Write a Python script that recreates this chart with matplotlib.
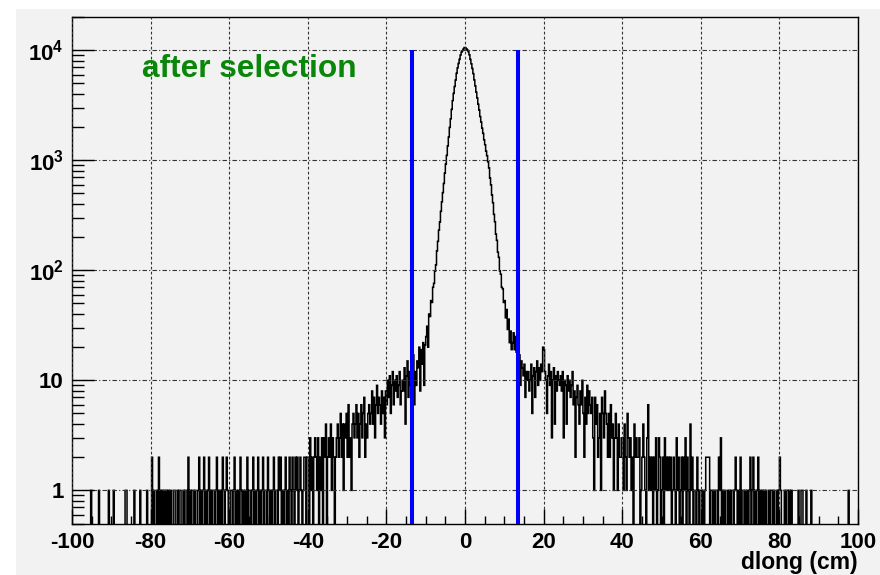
import numpy as np
import matplotlib.pyplot as plt
from matplotlib.patches import Rectangle
from matplotlib.ticker import FixedLocator, MultipleLocator, NullFormatter

plt.rcParams['font.family'] = ['Liberation Sans', 'DejaVu Sans']
plt.rcParams['font.weight'] = 'bold'
plt.rcParams['mathtext.fontset'] = 'custom'
plt.rcParams['mathtext.rm'] = 'Liberation Sans:bold'
plt.rcParams['mathtext.bf'] = 'Liberation Sans:bold'

# dlong histogram: 0.25 cm bins between -100 and 100 cm
x_lo, x_hi, n_bins = -100.0, 100.0, 800

# tails are one base-36 digit per bin, 16 bins (4 cm) per string
left_tail = [
    "0000000000000000",  # -100 .. -96
    "0001000000010000",
    "0000010000100000",
    "0000001100000001",
    "0000010000001000",
    "0201001020101010",  # -80 .. -76
    "1010100110010110",
    "0101102010110100",
    "1201012010120101",
    "1012010102101210",
    "0110120101021010",  # -60 .. -56
    "1020110120101201",
    "0120110210101201",
    "1021201012010210",
    "2102120121012202",
    "2031202321302130",  # -40 .. -36
    "3240232413202342",
    "3524143526231453",
    "4635246357243564",
    "5847369576485738",
    "6a7b59c6a8b79c68",  # -20 .. -16
    "a8d4bf7c9eah6c9f",
]

# central peak, -12 .. 12 cm
core_left = [13, 20, 8, 19, 14, 22, 9, 21, 25, 31, 20, 40,
             38, 53, 51, 70, 76, 98, 112, 150, 183, 231, 274, 343,
             418, 507, 614, 762, 921, 1105, 1346, 1622, 1983, 2376, 2891, 3474,
             4043, 4668, 5341, 6158, 6893, 7561, 8243, 9012, 9586, 9893, 10218, 10560]
core_right = [10537, 10288, 10024, 9688, 9071, 8229, 7514, 6807, 6112, 5356, 4731, 4149,
              3672, 3218, 2853, 2489, 2221, 1948, 1752, 1531, 1382, 1207, 1098, 968,
              851, 688, 597, 482, 411, 322, 276, 213, 187, 146, 131, 99,
              92, 70, 68, 51, 53, 37, 44, 29, 36, 22, 28, 19]

right_tail = [
    "mrjpigeh9fdbe7ca",  # 12 .. 16
    "c8ae5bd7cf9daeck",
    "jca5be9c3ad4b8ca",
    "9b8c3a94b8a79c68",
    "2796486a52749586",
    "5731746235175385",  # 32 .. 36
    "4252634135314223",
    "3142153231204232",
    "2301242103612120",
    "2130132012031212",
    "1201210312012021",  # 52 .. 56
    "3021041201102101",
    "1010122220110101",
    "1021301010010101",
    "1012101020110101",
    "0120120101201010",  # 72 .. 76
    "1010010110100101",
    "2100010110101000",
    "0001001100010000",
    "1000000000000000",
    "0000000000000000",  # 92 .. 96
    "0000001000000000",
]

cut_lo, cut_hi = -13.5, 13.5

y_ticks = [1, 10, 100, 1000, 10000]
y_tick_labels = ['1', '10', r'$\mathbf{10^{2}}$', r'$\mathbf{10^{3}}$', r'$\mathbf{10^{4}}$']
x_ticks = [-100, -80, -60, -40, -20, 0, 20, 40, 60, 80, 100]


def decode(strings):
    for s in strings:
        if len(s) != 16:
            raise ValueError("bad chunk %r" % s)
    return [int(c, 36) for s in strings for c in s]


def main():
    counts = np.array(decode(left_tail) + core_left + core_right + decode(right_tail), dtype=float)
    edges = np.linspace(x_lo, x_hi, n_bins + 1)

    fig = plt.figure(figsize=(8.8, 5.75), dpi=100, facecolor='white')
    # canvas background, kept behind the axes
    fig.patches.append(Rectangle((16 / 880, 0), 1, 1 - 9 / 575, transform=fig.transFigure,
                                 facecolor='#f2f2f2', edgecolor='none', zorder=-10))

    ax = fig.add_axes([72 / 880, 1 - 523.5 / 575, 786 / 880, 506.5 / 575])
    ax.set_facecolor('#f2f2f2')

    # empty bins drop to the bottom of the log axis
    shown = np.where(counts > 0, counts, 1e-3)
    ax.stairs(shown, edges, baseline=1e-3, color='black', lw=1.1)

    ax.vlines([cut_lo, cut_hi], 0.5, 1e4, color='#0000ff', lw=2.9, zorder=3)

    ax.set_yscale('log')
    ax.set_xlim(x_lo, x_hi)
    ax.set_ylim(0.5, 2e4)

    ax.xaxis.set_major_locator(FixedLocator(x_ticks))
    ax.xaxis.set_minor_locator(MultipleLocator(5))
    ax.set_xticklabels([str(t) for t in x_ticks])
    ax.yaxis.set_major_locator(FixedLocator(y_ticks))
    ax.set_yticklabels(y_tick_labels)
    ax.yaxis.set_minor_locator(FixedLocator(
        [m * 10 ** e for e in range(-1, 5) for m in range(2, 10) if 0.5 <= m * 10 ** e <= 2e4]))
    ax.yaxis.set_minor_formatter(NullFormatter())

    ax.tick_params(axis='both', which='both', direction='in', top=False, right=False,
                   width=1, color='black', labelsize=16)
    ax.tick_params(axis='x', which='major', length=11, pad=6)
    ax.tick_params(axis='x', which='minor', length=5.5)
    ax.tick_params(axis='y', which='major', length=16, pad=6)
    ax.tick_params(axis='y', which='minor', length=8.6)
    for lab in ax.get_xticklabels() + ax.get_yticklabels():
        lab.set_fontweight('bold')

    ax.set_axisbelow(False)
    ax.grid(True, which='major', axis='x', color='#333333', lw=0.8, linestyle=(0, (2.5, 2)))
    ax.grid(True, which='major', axis='y', color='#333333', lw=0.8, linestyle=(0, (4, 2, 1, 2)))

    for sp in ax.spines.values():
        sp.set_color('black')
        sp.set_linewidth(1.0)

    fig.text(142 / 880, 1 - 69 / 575, 'after selection', color='#0a870a',
             fontsize=22.8, fontweight='bold', ha='left', va='center')
    fig.text(858 / 880, 1 - 563 / 575, 'dlong (cm)', color='black',
             fontsize=16.5, fontweight='bold', ha='right', va='center')

    fig.savefig('out.png', dpi=100, facecolor='white')


if __name__ == '__main__':
    main()
